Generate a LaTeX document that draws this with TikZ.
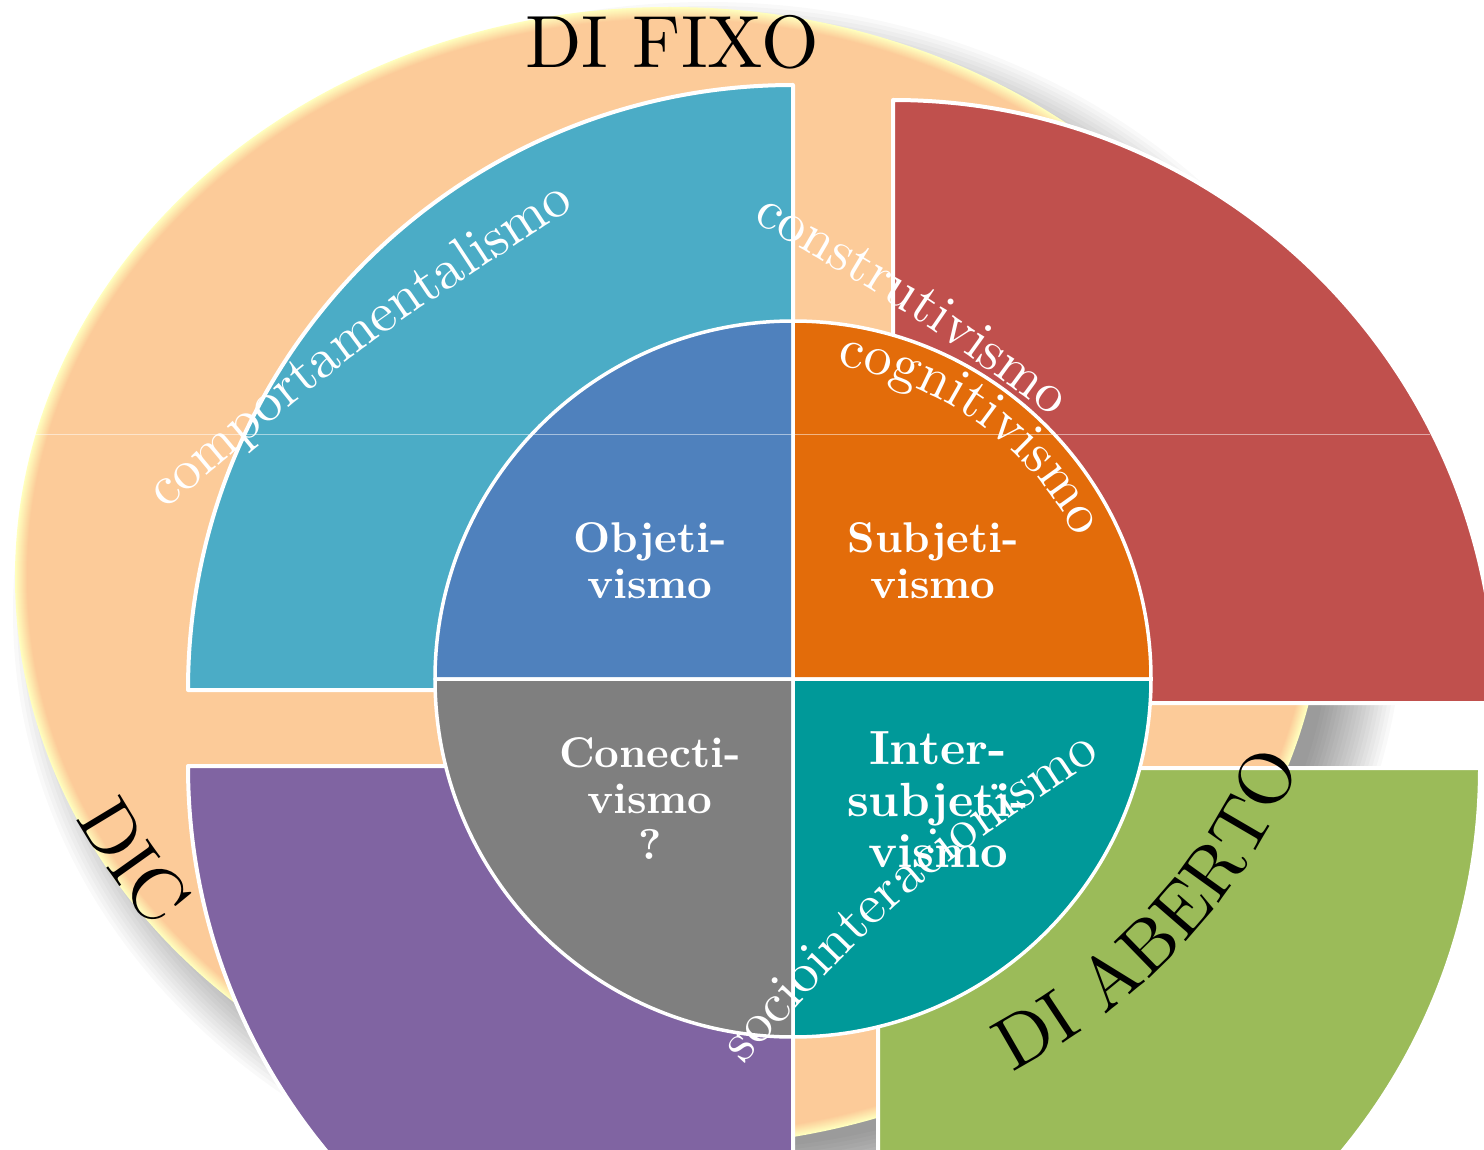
\documentclass[tikz,border=0pt]{standalone}
\usepackage{fontspec}
\setmainfont{lmroman10-regular.otf}[BoldFont=lmroman10-bold.otf]
\usetikzlibrary{decorations.text,calc}
\definecolor{peach}{RGB}{252,203,153}
\definecolor{glow}{RGB}{255,255,190}
\definecolor{secA}{RGB}{75,172,198}
\definecolor{secB}{RGB}{192,80,77}
\definecolor{secC}{RGB}{128,100,162}
\definecolor{secD}{RGB}{155,187,89}
\definecolor{inA}{RGB}{79,129,189}
\definecolor{inB}{RGB}{227,108,10}
\definecolor{inC}{RGB}{127,127,127}
\definecolor{inD}{RGB}{0,153,153}
\newcommand\cvfont{\fontsize{56}{60}\selectfont}
\newcommand\lblfont{\fontsize{74}{80}\selectfont}
\begin{document}
\begin{tikzpicture}[x=1pt,y=1pt,
  sector/.style={draw=white, line width=4pt, line join=round},
  quad/.style={draw=white, line width=3.5pt, line join=round},
  inlabel/.style={text=white, align=center, inner sep=0pt, font=\fontsize{43}{46}\selectfont\bfseries},
  biglabel/.style={text=black, inner sep=0pt, font=\lblfont},
  whitecurve/.style={decorate, decoration={text along path, text color=white, text={#1}}},
  blackcurve/.style={decorate, decoration={text along path, text color=black, text={#1}}}
]
\useasboundingbox (0,0) rectangle (1484,-1150);
\clip (0,0) rectangle (1484,-1150);
\fill[white] (0,0) rectangle (1484,-1150);

% soft shadow of the big disc
\foreach \b in {40,36,...,-32} {
  \fill[black, opacity=0.022] (708,-612) ellipse [x radius=655+\b, y radius=570+\b];
}
% glowing rim and peach disc
\foreach \i in {0,...,12} {
  \pgfmathsetmacro\mix{\i*100/12}
  \fill[peach!\mix!glow] (670,-577) ellipse [x radius=655-\i, y radius=570-\i];
}
\fill[peach] (670,-577) ellipse [x radius=642, y radius=557];

% labels on the disc
\path[blackcurve={|\lblfont|DIC}]
  ({670+655*cos(205)},{-577+570*sin(205)}) arc[start angle=205, end angle=265, x radius=655, y radius=570];
\node[biglabel, anchor=base] (fixo) at (672,-68) {DI FIXO};

% outer sectors
\filldraw[sector, fill=secA] (793,-690) -- (188,-690) arc[start angle=180, end angle=90, radius=605] -- cycle;
\filldraw[sector, fill=secB] (893,-703) -- (1496,-703) arc[start angle=0, end angle=90, radius=603] -- cycle;
\filldraw[sector, fill=secC] (793,-766) -- (188,-766) arc[start angle=180, end angle=270, radius=605] -- cycle;
\filldraw[sector, fill=secD] (878,-768) -- (1480,-768) arc[start angle=0, end angle=-90, radius=602] -- cycle;

% inner quadrants
\coordinate (c) at (793,-679);
\filldraw[quad, fill=inA] (c) -- ++(-358,0) arc[start angle=180, end angle=90, radius=358] -- cycle;
\filldraw[quad, fill=inB] (c) -- ++(358,0) arc[start angle=0, end angle=90, radius=358] -- cycle;
\filldraw[quad, fill=inC] (c) -- ++(-358,0) arc[start angle=180, end angle=270, radius=358] -- cycle;
\filldraw[quad, fill=inD] (c) -- ++(358,0) arc[start angle=0, end angle=-90, radius=358] -- cycle;

\node[inlabel] (obj) at (650,-561) {Objeti-\\vismo};
\node[inlabel] (sub) at (933,-561) {Subjeti-\\vismo};
\node[inlabel] (con) at (650,-799) {Conecti-\\vismo\\?};
\node[inlabel, font=\fontsize{48}{51.5}\selectfont\bfseries] (int) at (938,-800) {Inter-\\subjeti-\\vismo};

% curved white texts
\path[whitecurve={|\cvfont|comportamentalismo}]
  (165,-510) .. controls (362,-345) .. (578,-205) -- (660,-150);
\path[whitecurve={|\cvfont|construtivismo}]
  (752,-220) .. controls (908,-311) .. (1054,-418) -- (1110,-460);
\path[whitecurve={|\cvfont|cognitivismo}]
  ($(c)+(82:316)$) arc[start angle=82, end angle=5, radius=316];
\path[whitecurve={|\cvfont|sociointeracionismo}]
  (743,-1064) .. controls (911,-883) .. (1118,-746) -- (1170,-716);

% label over the green sector
\path[blackcurve={|\lblfont|DI ABERTO}]
  ({670+665*cos(-59)},{-577+578*sin(-59)}) arc[start angle=-59, end angle=10, x radius=665, y radius=578];

% faint horizontal hairline
\draw[white, opacity=0.5, line width=1pt] (35,-434) -- (1430,-434);
\end{tikzpicture}
\end{document}
